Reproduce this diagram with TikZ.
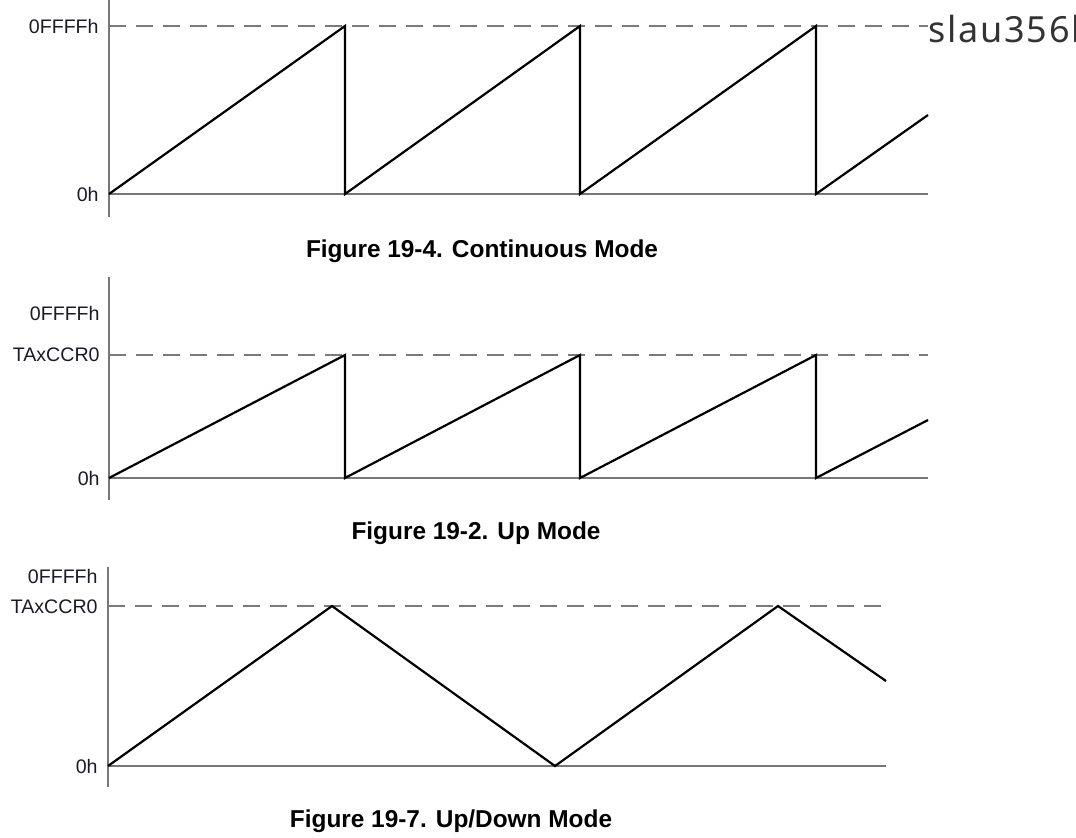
\documentclass[tikz,border=0pt]{standalone}
\usepackage{fontspec}
\setmainfont{Liberation Sans}
\newfontfamily\wmfont[LetterSpace=5]{Noto Sans}
\definecolor{axisgray}{HTML}{777777}
\definecolor{dashgray}{HTML}{7A7A7A}
\definecolor{labelink}{HTML}{1A1A28}
\begin{document}
\begin{tikzpicture}[x=0.5pt,y=-0.5pt,
  axisline/.style={draw=axisgray,line width=0.75pt},
  refline/.style={draw=dashgray,line width=0.75pt,dash pattern=on 8.5pt off 5pt},
  signal/.style={draw=black,line width=1.1pt,line join=miter},
  lvl/.style={anchor=east,inner sep=0pt,text=labelink,font=\fontsize{9.8}{11}\selectfont},
  figcap/.style={anchor=base,inner sep=0pt,font=\fontsize{12.2}{14}\selectfont\bfseries},
  wm/.style={anchor=base west,inner sep=0pt,text=black!80,font=\wmfont\fontsize{18}{20}\selectfont}]
\useasboundingbox (0,0) rectangle (1076,837);

% ---------- Panel 1: Continuous mode ----------
\coordinate (a1top) at (109,0);
\coordinate (a1bot) at (109,217);
\coordinate (a1o) at (109,194);
\coordinate (a1end) at (928,194);
\draw[refline] (109,26) -- (928,26);
\draw[axisline] (a1top) -- (a1bot);
\draw[axisline] (a1o) -- (a1end);
\draw[signal] (a1o) -- (345,26) -- (345,194) -- (580,26) -- (580,194) -- (816,26) -- (816,194) -- (928,115);
\node[lvl] (l1a) at (99,26) {0FFFFh};
\node[lvl] (l1b) at (99,194) {0h};
\node[figcap] (c1) at (482,257) {Figure 19-4. Continuous Mode};
\node[wm] (wmk) at (928,42) {slau356h};

% ---------- Panel 2: Up mode ----------
\coordinate (a2top) at (109,277);
\coordinate (a2bot) at (109,500);
\coordinate (a2o) at (109,478);
\coordinate (a2end) at (928,478);
\draw[refline] (109,355) -- (928,355);
\draw[axisline] (a2top) -- (a2bot);
\draw[axisline] (a2o) -- (a2end);
\draw[signal] (a2o) -- (345,355) -- (345,478) -- (580,355) -- (580,478) -- (816,355) -- (816,478) -- (928,420);
\node[lvl] (l2a) at (100,313) {0FFFFh};
\node[lvl] (l2b) at (100,355) {TAxCCR0};
\node[lvl] (l2c) at (100,478) {0h};
\node[figcap] (c2) at (476,539) {Figure 19-2. Up Mode};

% ---------- Panel 3: Up/Down mode ----------
\coordinate (a3top) at (108,567);
\coordinate (a3bot) at (108,787);
\coordinate (a3o) at (108,766);
\coordinate (a3end) at (886,766);
\draw[refline] (108,606) -- (886,606);
\draw[axisline] (a3top) -- (a3bot);
\draw[axisline] (a3o) -- (a3end);
\draw[signal] (a3o) -- (332,606) -- (555,766) -- (778,606) -- (886,681);
\node[lvl] (l3a) at (98,576) {0FFFFh};
\node[lvl] (l3b) at (98,607) {TAxCCR0};
\node[lvl] (l3c) at (98,766) {0h};
\node[figcap] (c3) at (451,827) {Figure 19-7. Up/Down Mode};
\end{tikzpicture}
\end{document}
